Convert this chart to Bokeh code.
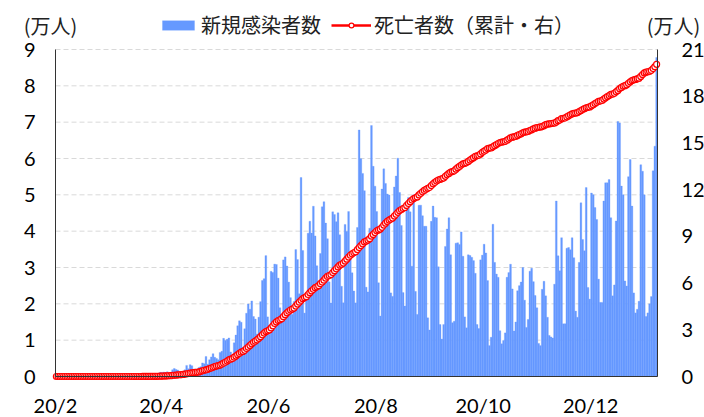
import pandas as pd
from bokeh.plotting import figure
from bokeh.models import (Range1d, LinearAxis, FixedTicker, Legend, LegendItem,
                          Label, ColumnDataSource)
from bokeh.embed import file_html
from bokeh.resources import INLINE

# ---------------- data ----------------
start_date = "2020-02-01"
end_date = "2021-01-07"

# daily new cases (万人), by month
cases_feb = [0, 0, 0, 0, 0, 0, 0, 0, 0, 0, 0, 0, 0, 0, 0, 0, 0, 0, 0, 0,
             0, 0, 0, 0, 0, 0.0001, 0, 0, 0.0001]
cases_mar = [0, 0, 0, 0, 0, 0, 0, 0, 0, 0, 0, 0, 0.002, 0.005, 0.006, 0.008,
             0.006, 0.014, 0.019, 0.028, 0.022, 0.042, 0.035, 0.031, 0.023,
             0.048, 0.050, 0.049, 0.035, 0.032, 0.114]
cases_apr = [0.112, 0.121, 0.101, 0.130, 0.077, 0.103, 0.187, 0.221, 0.193,
             0.178, 0.109, 0.144, 0.126, 0.183, 0.306, 0.211, 0.326, 0.298,
             0.200, 0.209, 0.193, 0.250, 0.268, 0.374, 0.350, 0.551, 0.338,
             0.461, 0.539, 0.628]
cases_may = [0.528, 0.497, 0.459, 0.663, 0.694, 1.050, 0.989, 1.022, 1.061,
             0.676, 0.563, 0.926, 1.139, 1.394, 1.531, 1.492, 0.794, 1.314,
             1.741, 1.995, 1.851, 2.080, 1.651, 1.581, 1.169, 1.632, 2.060,
             2.642, 2.693, 3.327, 1.641]
cases_jun = [1.160, 2.894, 2.863, 3.093, 3.083, 2.708, 1.891, 1.565, 3.209,
             3.291, 3.041, 2.598, 2.170, 1.711, 2.065, 3.492, 3.219, 2.277,
             5.477, 3.467, 1.746, 2.143, 3.944, 4.273, 3.948, 4.686, 3.869,
             3.048, 2.405, 3.385]
cases_jul = [4.671, 4.811, 4.222, 3.792, 2.605, 2.023, 4.531, 4.457, 4.262,
             4.505, 3.902, 2.483, 2.029, 4.186, 3.992, 4.540, 3.418, 2.853,
             2.353, 2.026, 4.101, 6.786, 5.996, 5.589, 5.115, 2.458, 2.328,
             4.082, 6.907, 5.784, 5.238]
cases_aug = [4.539, 2.580, 1.664, 5.160, 5.715, 5.314, 5.023, 4.997, 2.301,
             2.205, 5.216, 5.516, 6.009, 5.064, 4.158, 2.310, 1.937, 4.778,
             4.930, 4.532, 3.036, 5.003, 2.342, 1.708, 4.713, 4.716, 4.424,
             4.135, 4.135, 1.616, 1.280]
cases_sep = [4.27, 4.69, 4.38, 4.37, 3.02, 1.43, 1.03, 1.43, 3.58, 4.06,
             4.37, 3.35, 1.48, 1.52, 3.67, 3.68, 3.63, 3.98, 3.31, 1.64,
             1.34, 3.35, 3.33, 3.28, 3.19, 2.84, 1.43, 1.32, 3.21, 3.34]
cases_oct = [3.64, 3.40, 2.64, 0.85, 1.08, 4.19, 3.14, 2.82, 2.73, 1.26,
             0.90, 0.99, 1.20, 2.73, 2.86, 3.09, 2.41, 1.25, 1.50, 2.36,
             2.50, 2.60, 3.00, 2.10, 1.35, 1.57, 2.90, 2.98, 2.61, 2.23, 1.89]
cases_nov = [0.91, 0.85, 2.40, 2.62, 2.22, 1.63, 1.13, 1.09, 1.06, 2.54,
             4.83, 3.32, 2.91, 3.82, 1.45, 1.45, 3.53, 3.55, 3.49, 3.82,
             3.27, 1.80, 1.63, 3.14, 4.78, 3.77, 3.46, 5.20, 2.45, 2.13]
cases_dec = [5.05, 5.00, 4.65, 4.32, 2.68, 2.04, 2.04, 4.83, 5.33, 5.33,
             5.42, 4.37, 2.22, 2.52, 4.28, 7.02, 6.98, 5.24, 5.00, 2.63,
             2.49, 5.50, 5.97, 4.69, 2.30, 1.75, 1.85, 2.07, 5.83, 5.65, 5.00]
cases_jan = [1.65, 1.75, 2.00, 2.20, 5.66, 6.34, 8.78]

# cumulative deaths (persons), by month
deaths_feb = [0, 0, 0, 0, 0, 0, 0, 0, 0, 0, 0, 0, 0, 0, 0, 0, 0, 0, 0, 0,
              0, 0, 0, 0, 0, 0, 0, 0, 0]
deaths_mar = [0, 0, 0, 0, 0, 0, 0, 0, 0, 0, 0, 0, 0, 0, 0, 0,
              1, 4, 7, 11, 18, 25, 34, 46, 59, 77, 92, 111, 136, 159, 201]
deaths_apr = [240, 324, 359, 445, 486, 553, 667, 800, 941, 1056, 1124, 1223,
              1328, 1532, 1736, 1924, 2141, 2347, 2462, 2587, 2741, 2906,
              3313, 3670, 4016, 4205, 4543, 5017, 5466, 5901]
deaths_may = [6329, 6750, 7025, 7321, 7921, 8536, 9146, 9897, 10627, 11123,
              11519, 12400, 13149, 13993, 14817, 15633, 16118, 16792, 17971,
              18859, 19951, 20982, 21964, 22666, 23473, 24512, 25598, 26754,
              27878, 28834, 29314]
deaths_jun = [29937, 31199, 32548, 34021, 35026, 35930, 36455, 37134, 38406,
              39680, 40919, 41828, 42720, 43332, 43959, 45241, 46510, 47748,
              48954, 49976, 50617, 51271, 52645, 53830, 54971, 55961, 57070,
              57622, 58314, 59594]
deaths_jul = [60632, 61884, 63174, 64265, 64867, 65487, 66741, 67964, 69184,
              70398, 71469, 72100, 72833, 74133, 75366, 76688, 77851, 78772,
              79488, 80120, 81487, 82771, 84082, 85238, 86449, 87004, 87618,
              88539, 90134, 91263, 92475]
deaths_aug = [93563, 94104, 94665, 95819, 97256, 98493, 99572, 100477,
              101049, 101752, 103026, 104201, 105463, 106523, 107232, 107852,
              108536, 109888, 111100, 112304, 113358, 114250, 114744, 115309,
              116580, 117665, 118649, 119504, 120262, 120828, 121381]
deaths_sep = [122596, 123780, 124614, 125502, 126203, 126650, 126960, 127464,
              128539, 129522, 130396, 131210, 131625, 132006, 133119, 134106,
              134935, 135793, 136532, 136895, 137272, 138105, 138977, 139808,
              140537, 141406, 141741, 142058, 142921, 143952]
deaths_oct = [144680, 145388, 146352, 146675, 146773, 147494, 148228, 148957,
              149639, 150198, 150488, 150689, 150998, 151747, 152460, 153214,
              153675, 153905, 154176, 154837, 155403, 155900, 156471, 156903,
              157134, 157397, 157946, 158456, 158969, 159477, 159884]
deaths_nov = [160074, 160253, 160496, 161106, 161736, 162015, 162269, 162397,
              162628, 162802, 163368, 164281, 164737, 165658, 165798, 166014,
              166699, 167455, 168061, 168613, 169016, 169183, 169485, 170115,
              170769, 171460, 171974, 172561, 172833, 173120]
deaths_dec = [173817, 174515, 175270, 175964, 176628, 176941, 177317, 178159,
              178995, 179765, 180437, 181123, 181402, 181835, 182799, 183735,
              184827, 185650, 186356, 186764, 187291, 188259, 189220, 190032,
              190488, 190795, 191139, 191570, 192681, 193875, 194949]
deaths_jan = [195411, 195725, 196018, 196561, 197732, 198974, 200498]

tick_dates = ["2020-02-01", "2020-04-01", "2020-06-01", "2020-08-01",
              "2020-10-01", "2020-12-01"]
tick_labels = ["20/2", "20/4", "20/6", "20/8", "20/10", "20/12"]
left_ticks = [0, 1, 2, 3, 4, 5, 6, 7, 8, 9]
right_ticks = [0, 3, 6, 9, 12, 15, 18, 21]

# ---------------- assemble ----------------
cases = (cases_feb + cases_mar + cases_apr + cases_may + cases_jun + cases_jul
         + cases_aug + cases_sep + cases_oct + cases_nov + cases_dec + cases_jan)
deaths = (deaths_feb + deaths_mar + deaths_apr + deaths_may + deaths_jun
          + deaths_jul + deaths_aug + deaths_sep + deaths_oct + deaths_nov
          + deaths_dec + deaths_jan)

t0 = pd.Timestamp(start_date)
dates = pd.date_range(start_date, end_date, freq="D")
n_days = len(dates)
xs = [(d - t0).days + 0.5 for d in dates]
src = ColumnDataSource(dict(x=xs, cases=cases,
                            deaths=[d / 10000 for d in deaths]))
tick_pos = [(pd.Timestamp(t) - t0).days for t in tick_dates]

FONT_NUM = "Lato"
FONT_JP = "Noto Sans CJK JP"
BAR_COLOR = "#6699FF"
LINE_COLOR = "#FF0000"

# ---------------- pixel layout ----------------
W, H = 704, 417
PX_L, PX_R = 55, 657        # plot area left / right (px)
PX_T, PX_B = 49, 376        # plot area top (value 9) / bottom (value 0)

LMAX, RMAX = left_ticks[-1], right_ticks[-1]
days_per_px = n_days / (PX_R - PX_L)
l_per_px = LMAX / (PX_B - PX_T)
r_per_px = RMAX / (PX_B - PX_T)

# the drawing frame covers the whole canvas; the plot area is a sub-region
x_range = Range1d(-PX_L * days_per_px, n_days + (W - PX_R) * days_per_px)
y_range = Range1d(-(H - PX_B) * l_per_px, LMAX + PX_T * l_per_px)

p = figure(frame_width=W, frame_height=H, min_border=0,
           output_backend="svg", toolbar_location=None,
           x_range=x_range, y_range=y_range,
           y_axis_location=None, x_axis_location=None)
p.extra_y_ranges = {"right": Range1d(-(H - PX_B) * r_per_px,
                                     RMAX + PX_T * r_per_px)}
p.outline_line_color = None
p.grid.visible = False

# dashed horizontal gridlines inside the plot area
grid_src = ColumnDataSource(dict(y=left_ticks[1:],
                                 x0=[0] * (len(left_ticks) - 1),
                                 x1=[n_days] * (len(left_ticks) - 1)))
p.segment(x0="x0", x1="x1", y0="y", y1="y", source=grid_src,
          line_color="#d9d9d9", line_dash="5 3", line_width=1)

bars = p.vbar(x="x", top="cases", width=1.0, source=src,
              fill_color=BAR_COLOR, line_color=BAR_COLOR, line_width=0.3)
line = p.line(x="x", y="deaths", source=src, y_range_name="right",
              line_color=LINE_COLOR, line_width=2.5)
pts = p.scatter(x="x", y="deaths", source=src, y_range_name="right",
                marker="circle", size=6, fill_color="white",
                line_color=LINE_COLOR, line_width=1.2)


def style_axis(ax, standoff):
    ax.major_tick_line_color = None
    ax.minor_tick_line_color = None
    ax.major_tick_out = 0
    ax.major_tick_in = 0
    ax.axis_line_color = "#333333"
    ax.axis_line_width = 1
    ax.major_label_text_font = FONT_NUM
    ax.major_label_text_font_size = "20px"
    ax.major_label_text_color = "#000000"
    ax.major_label_standoff = standoff


yl = LinearAxis(ticker=FixedTicker(ticks=left_ticks), fixed_location=0,
                bounds=(0, LMAX))
style_axis(yl, 20)
p.add_layout(yl, "left")

yr = LinearAxis(y_range_name="right", ticker=FixedTicker(ticks=right_ticks),
                fixed_location=n_days, bounds=(0, RMAX))
style_axis(yr, 24)
p.add_layout(yr, "right")

xa = LinearAxis(ticker=FixedTicker(ticks=tick_pos), bounds=(0, n_days),
                fixed_location=0,
                major_label_overrides={tp: lab for tp, lab in zip(tick_pos, tick_labels)})
style_axis(xa, 16)
p.add_layout(xa, "below")

# legend (top, horizontal)
legend = Legend(items=[LegendItem(label="新規感染者数", renderers=[bars]),
                       LegendItem(label="死亡者数（累計・右）", renderers=[line, pts])],
                orientation="horizontal", location=(158, H - 39),
                label_text_font=FONT_JP, label_text_font_size="20px",
                label_text_color="#222222",
                glyph_width=40, glyph_height=12, label_height=12,
                label_standoff=3, spacing=10, padding=0, margin=0,
                border_line_color=None, background_fill_alpha=0)
p.add_layout(legend)

# unit labels
for xpos in (50, 673):
    p.add_layout(Label(x=xpos, y=H - 25, x_units="screen", y_units="screen",
                       text="(万人)", text_font=FONT_JP,
                       text_font_size="20px", text_align="center",
                       text_baseline="middle", text_color="#222222"))

open("out.html", "w").write(file_html(p, INLINE))
